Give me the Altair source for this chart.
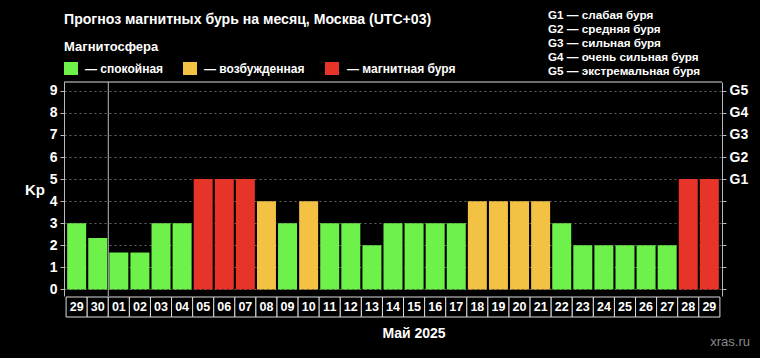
import altair as alt
import pandas as pd

days = ["29", "30", "01", "02", "03", "04", "05", "06", "07", "08", "09", "10", "11", "12", "13", "14",
        "15", "16", "17", "18", "19", "20", "21", "22", "23", "24", "25", "26", "27", "28", "29"]
months = ["04", "04"] + ["05"] * 29
kp = [3, 2.33, 1.67, 1.67, 3, 3, 5, 5, 5, 4, 3, 4, 3, 3, 2, 3,
      3, 3, 3, 4, 4, 4, 4, 3, 2, 2, 2, 2, 2, 5, 5]
levels = ["спокойная", "возбужденная", "магнитная буря"]
level_colors = ["#6EF24B", "#F3C144", "#E63428"]
g_labels = ["G1 — слабая буря", "G2 — средняя буря", "G3 — сильная буря",
            "G4 — очень сильная буря", "G5 — экстремальная буря"]
title_text = "Прогноз магнитных бурь на месяц, Москва (UTC+03)"
month_title = "Май 2025"

W, H = 658, 214
FONT = "Liberation Sans"


def level_of(v):
    if v >= 5:
        return levels[2]
    if v >= 4:
        return levels[1]
    return levels[0]


df = pd.DataFrame({
    "key": [m + "-" + d for m, d in zip(months, days)],
    "day": days,
    "kp": kp,
    "level": [level_of(v) for v in kp],
})
order = list(df["key"])

xs = alt.Scale(domain=order, paddingInner=0, paddingOuter=0.1)
ys = alt.Scale(domain=[-0.3, 9.4], nice=False, zero=False)

base = alt.Chart(df)

bars = base.mark_bar(width=alt.RelativeBandSize(0.9)).encode(
    x=alt.X("key:O", scale=xs, axis=None, sort=order),
    y=alt.Y("kp:Q", scale=ys, axis=alt.Axis(
        orient="left", values=list(range(10)), grid=True, gridDash=[2, 3], gridColor="#666",
        domainColor="#bbb", tickColor="#bbb", tickSize=4, labelColor="#fff",
        labelFont=FONT, labelFontWeight="bold", labelFontSize=14, labelPadding=3, title=None)),
    y2=alt.value(H),
    color=alt.Color("level:N", scale=alt.Scale(domain=levels, range=level_colors), legend=None),
)

right_axis = base.mark_point(opacity=0).encode(
    x=alt.X("key:O", scale=xs, axis=None, sort=order),
    y=alt.Y("kp:Q", scale=ys, axis=alt.Axis(
        orient="right", values=list(range(10)), grid=False,
        domainColor="#bbb", tickColor="#bbb", tickSize=4, labelColor="#fff",
        labelFont=FONT, labelFontWeight="bold", labelFontSize=14, labelPadding=3, title=None,
        labelExpr="datum.value >= 5 ? 'G' + (datum.value - 4) : ''")),
)

boxes = base.mark_rect(fill="#000", stroke="#ddd", strokeWidth=1).encode(
    x=alt.X("key:O", scale=xs, sort=order),
    y=alt.value(H + 1),
    y2=alt.value(H + 21),
)

box_text = base.mark_text(color="#fff", font=FONT, fontWeight="bold", fontSize=12.5).encode(
    x=alt.X("key:O", scale=xs, sort=order),
    y=alt.value(H + 11),
    text="day:N",
)

divider = base.transform_filter(alt.datum.key == "05-01").mark_rule(color="#bbb", strokeWidth=1).encode(
    x=alt.X("key:O", scale=xs, sort=order, bandPosition=0),
    y=alt.value(0),
    y2=alt.value(H),
)

top_line = alt.Chart(alt.Data(values=[{}])).mark_rule(color="#ddd", strokeWidth=1).encode(
    x=alt.value(0), x2=alt.value(W), y=alt.value(0)
)


def label(text, x, y, size=12, color="#fff", weight="bold", align="left"):
    return alt.Chart(alt.Data(values=[{}])).mark_text(
        text=text, font=FONT, fontSize=size, fontWeight=weight, color=color,
        align=align, baseline="middle"
    ).encode(x=alt.value(x), y=alt.value(y))


texts = [
    label(title_text, 0, -62, size=14.1),
    label("Магнитосфера", 0, -35, size=13),
    label("Kp", -39, 108, size=15, align="left"),
    label(month_title, 350, 252, size=14, align="center"),
    label("xras.ru", 686, 260, size=13, color="#8a8a8a", weight="normal", align="right"),
]

legend_items = []
sq_x = [0, 119, 261]
tx_x = [21, 140, 283]
for i, lv in enumerate(levels):
    legend_items.append(
        alt.Chart(alt.Data(values=[{}])).mark_rect(color=level_colors[i]).encode(
            x=alt.value(sq_x[i]), x2=alt.value(sq_x[i] + 14),
            y=alt.value(-20), y2=alt.value(-7)
        )
    )
    legend_items.append(label("— " + lv, tx_x[i], -13, size=12))

g_y = [-67, -53, -39, -25, -11]
for i, g in enumerate(g_labels):
    texts.append(label(g, 484, g_y[i], size=11.7))

chart = alt.layer(
    bars, right_axis, divider, top_line, boxes, box_text, *texts, *legend_items
).resolve_axis(y="independent").properties(
    width=W, height=H,
    autosize=alt.AutoSizeParams(type="none"),
    padding={"left": 64, "top": 82, "right": 38, "bottom": 62},
    background="#000",
).configure_view(stroke=None)

chart.save("out.html", embed_options={"renderer": "svg", "actions": False})
